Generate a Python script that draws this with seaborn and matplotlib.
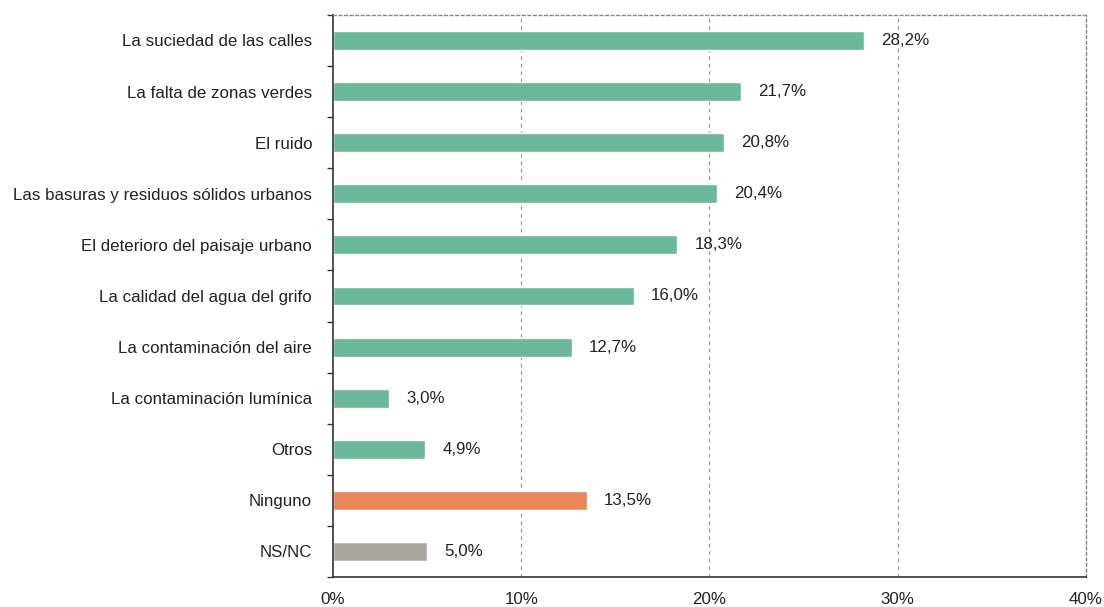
import numpy as np
import pandas as pd
import matplotlib
matplotlib.use('Agg')
import matplotlib.pyplot as plt
import seaborn as sns

sns.set_style('white')
plt.rcParams['font.family'] = ['Liberation Sans', 'DejaVu Sans']

categories = ['La suciedad de las calles', 'La falta de zonas verdes', 'El ruido',
              'Las basuras y residuos sólidos urbanos', 'El deterioro del paisaje urbano',
              'La calidad del agua del grifo', 'La contaminación del aire',
              'La contaminación lumínica', 'Otros', 'Ninguno', 'NS/NC']
values = [28.2, 21.7, 20.8, 20.4, 18.3, 16.0, 12.7, 3.0, 4.9, 13.5, 5.0]
colors = ['#6bb89a'] * 9 + ['#e8875a', '#aaa79e']

df = pd.DataFrame({'cat': categories, 'val': values})

fig = plt.figure(figsize=(11.04, 6.07), dpi=100)
ax = fig.add_axes([0.3016, 0.0494, 0.682, 0.926])

sns.barplot(data=df, y='cat', x='val', hue='cat', palette=colors, legend=False,
            width=0.37, ax=ax, saturation=1)

fs = 12.2
ax.set_xlim(0, 40)
ax.set_ylim(len(categories) - 0.5, -0.5)
ax.set_xticks([0, 10, 20, 30, 40])
ax.set_xticklabels(['0%', '10%', '20%', '30%', '40%'], fontsize=fs, color='#222222')
ax.tick_params(axis='x', length=0, pad=11)
ax.set_xlabel('')
ax.set_ylabel('')

# y ticks at the category boundaries
ax.set_yticks(np.arange(len(categories)))
ax.set_yticklabels(categories, fontsize=fs, color='#222222')
ax.tick_params(axis='y', which='major', left=False, length=0, pad=15)
ax.set_yticks(np.arange(-0.5, len(categories)), minor=True)
ax.tick_params(axis='y', which='minor', left=True, length=4, width=1,
               color='#333333', direction='out')

for x in [10, 20, 30]:
    ax.axvline(x, color='#999999', linestyle=(0, (3, 3)), linewidth=0.9, zorder=0)

for side in ['top', 'right']:
    ax.spines[side].set_linestyle((0, (2, 2)))
    ax.spines[side].set_color('#888888')
    ax.spines[side].set_linewidth(1)
for side in ['left', 'bottom']:
    ax.spines[side].set_color('#333333')
    ax.spines[side].set_linewidth(1.2)

for i, v in enumerate(values):
    ax.text(v + 0.9, i, f'{v:.1f}%'.replace('.', ','), va='center', ha='left',
            fontsize=fs, color='#222222')

fig.savefig('out.png', dpi=100)
